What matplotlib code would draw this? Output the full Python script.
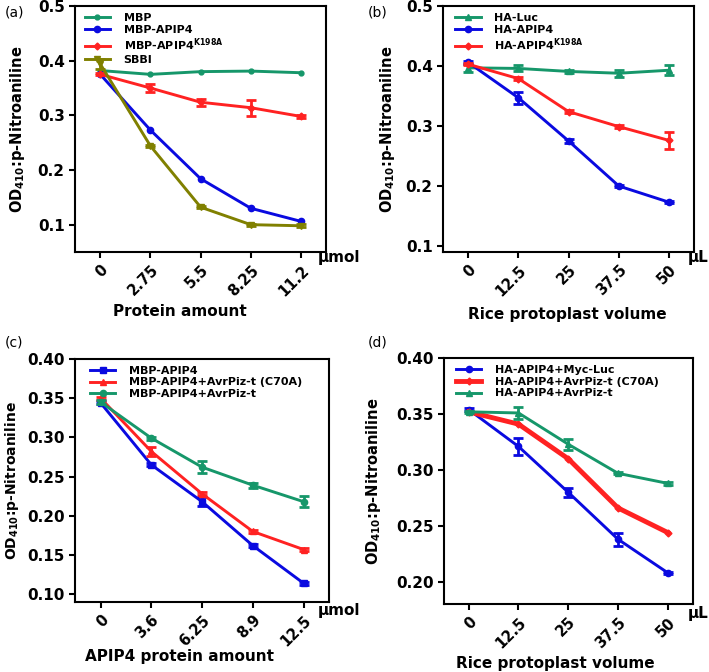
import matplotlib
matplotlib.use("Agg")
import matplotlib.pyplot as plt
import numpy as np

plt.rcParams['font.family'] = ['DejaVu Sans']
plt.rcParams['font.weight'] = 'bold'
plt.rcParams['mathtext.fontset'] = 'dejavusans'
plt.rcParams['mathtext.default'] = 'bf'

GREEN = '#16976a'
BLUE = '#0a0ae0'
RED = '#ff2222'
OLIVE = '#808000'

# panel (a)
a_ticks = ['0', '2.75', '5.5', '8.25', '11.2']
a_mbp = [0.382, 0.375, 0.380, 0.381, 0.378]
a_apip4 = [0.375, 0.273, 0.184, 0.130, 0.106]
a_k198a = [0.375, 0.350, 0.324, 0.314, 0.298]
a_k198a_err = [0.002, 0.007, 0.006, 0.015, 0.002]
a_sbbi = [0.394, 0.244, 0.132, 0.100, 0.098]
a_sbbi_err = [0.009, 0.002, 0.002, 0.002, 0.003]

# panel (b)
b_ticks = ['0', '12.5', '25', '37.5', '50']
b_luc = [0.397, 0.396, 0.391, 0.388, 0.393]
b_luc_err = [0.007, 0.005, 0.002, 0.006, 0.008]
b_apip4 = [0.406, 0.347, 0.275, 0.200, 0.173]
b_apip4_err = [0.002, 0.010, 0.004, 0.002, 0.002]
b_k198a = [0.403, 0.379, 0.324, 0.299, 0.276]
b_k198a_err = [0.002, 0.002, 0.002, 0.002, 0.014]

# panel (c)
c_ticks = ['0', '3.6', '6.25', '8.9', '12.5']
c_apip4 = [0.344, 0.265, 0.218, 0.162, 0.114]
c_apip4_err = [0.002, 0.002, 0.006, 0.002, 0.002]
c_c70a = [0.350, 0.282, 0.228, 0.180, 0.157]
c_c70a_err = [0.002, 0.006, 0.002, 0.002, 0.002]
c_avr = [0.345, 0.299, 0.262, 0.239, 0.218]
c_avr_err = [0.002, 0.002, 0.008, 0.003, 0.007]

# panel (d)
d_ticks = ['0', '12.5', '25', '37.5', '50']
d_luc = [0.354, 0.321, 0.280, 0.238, 0.208]
d_luc_err = [0.001, 0.008, 0.004, 0.006, 0.001]
d_c70a = [0.352, 0.341, 0.310, 0.266, 0.244]
d_avr = [0.352, 0.351, 0.323, 0.297, 0.288]
d_avr_err = [0.001, 0.005, 0.005, 0.001, 0.001]


def draw(ax, y, err, color, marker, label, lw=2.1, ms=4.5):
    x = np.arange(len(y))
    ax.plot(x, y, color=color, marker=marker, markersize=ms, linewidth=lw, label=label)
    if err is not None:
        ax.errorbar(x, y, yerr=err, fmt='none', ecolor=color, elinewidth=2,
                    capsize=3.5, capthick=2)


def style(ax, ticks, ylim, yticks, yfmt, unit, xlabel, ylab_x, xlab_xy, unit_xy):
    ax.set_xlim(-0.5, 4.5)
    ax.set_ylim(*ylim)
    ax.set_xticks(np.arange(len(ticks)))
    ax.set_xticklabels(ticks, rotation=45, ha='right', rotation_mode='anchor',
                       fontsize=10.5, fontweight='bold')
    ax.set_yticks(yticks)
    ax.set_yticklabels([yfmt.format(v) for v in yticks], fontsize=11, fontweight='bold')
    ax.tick_params(direction='out', width=1.5, length=4)
    for s in ax.spines.values():
        s.set_linewidth(1.5)
    ax.set_ylabel(r'OD$_{410}$:p-Nitroaniline', fontsize=10.5, fontweight='bold')
    ax.yaxis.set_label_coords(ylab_x, 0.5)
    ax.set_xlabel(xlabel, fontsize=11, fontweight='bold')
    ax.xaxis.set_label_coords(*xlab_xy)
    ax.text(unit_xy[0], unit_xy[1], unit, transform=ax.transAxes, fontsize=11,
            fontweight='bold', ha='left', va='center')


def legend(ax, x0):
    ax.legend(loc='upper left', frameon=False, fontsize=8, handlelength=2.3,
              handletextpad=1.2, labelspacing=0.15, borderaxespad=0.0,
              bbox_to_anchor=(x0, 0.99))


fig = plt.figure(figsize=(7.09, 6.72), dpi=100)
ax1 = fig.add_axes([0.106, 0.625, 0.354, 0.366])
ax2 = fig.add_axes([0.625, 0.625, 0.354, 0.366])
ax3 = fig.add_axes([0.106, 0.104, 0.358, 0.362])
ax4 = fig.add_axes([0.626, 0.101, 0.351, 0.366])

# (a)
draw(ax1, a_mbp, None, GREEN, 'o', 'MBP', ms=3.5)
draw(ax1, a_apip4, None, BLUE, 'o', 'MBP-APIP4')
draw(ax1, a_k198a, a_k198a_err, RED, 'D', r'MBP-APIP4$^{\mathbf{K198A}}$', ms=3.5)
draw(ax1, a_sbbi, a_sbbi_err, OLIVE, 'v', 'SBBI')
style(ax1, a_ticks, (0.05, 0.5), [0.1, 0.2, 0.3, 0.4, 0.5], '{:.1f}', 'μmol',
      'Protein amount', -0.19, (0.418, -0.21), (0.968, -0.024))
legend(ax1, 0.02)

# (b)
draw(ax2, b_luc, b_luc_err, GREEN, '^', 'HA-Luc')
draw(ax2, b_apip4, b_apip4_err, BLUE, 'o', 'HA-APIP4')
draw(ax2, b_k198a, b_k198a_err, RED, 'D', r'HA-APIP4$^{\mathbf{K198A}}$', ms=3.5)
style(ax2, b_ticks, (0.09, 0.5), [0.1, 0.2, 0.3, 0.4, 0.5], '{:.1f}', 'μL',
      'Rice protoplast volume', -0.183, (0.494, -0.222), (0.976, -0.024))
legend(ax2, 0.03)

# (c)
draw(ax3, c_apip4, c_apip4_err, BLUE, 's', 'MBP-APIP4')
draw(ax3, c_c70a, c_c70a_err, RED, '^', 'MBP-APIP4+AvrPiz-t (C70A)')
draw(ax3, c_avr, c_avr_err, GREEN, 'o', 'MBP-APIP4+AvrPiz-t')
style(ax3, c_ticks, (0.09, 0.40), [0.10, 0.15, 0.20, 0.25, 0.30, 0.35, 0.40], '{:.2f}',
      'μmol', 'APIP4 protein amount', -0.212, (0.413, -0.193), (0.957, -0.033))
ax3.yaxis.label.set_fontsize(10)
legend(ax3, 0.04)

# (d)
draw(ax4, d_luc, d_luc_err, BLUE, 'o', 'HA-APIP4+Myc-Luc')
draw(ax4, d_c70a, None, RED, 'D', 'HA-APIP4+AvrPiz-t (C70A)', lw=3.5, ms=3.5)
draw(ax4, d_avr, d_avr_err, GREEN, '^', 'HA-APIP4+AvrPiz-t')
style(ax4, d_ticks, (0.18, 0.40), [0.20, 0.25, 0.30, 0.35, 0.40], '{:.2f}', 'μL',
      'Rice protoplast volume', -0.245, (0.446, -0.211), (0.98, -0.037))
legend(ax4, 0.03)

# panel letters
for txt, px, py in [('(a)', 5, 13), ('(b)', 368, 13), ('(c)', 5, 343), ('(d)', 368, 343)]:
    fig.text(px / 709, 1 - py / 672, txt, fontsize=10, fontweight='normal',
             ha='left', va='center')

fig.savefig('out.png', dpi=100)
